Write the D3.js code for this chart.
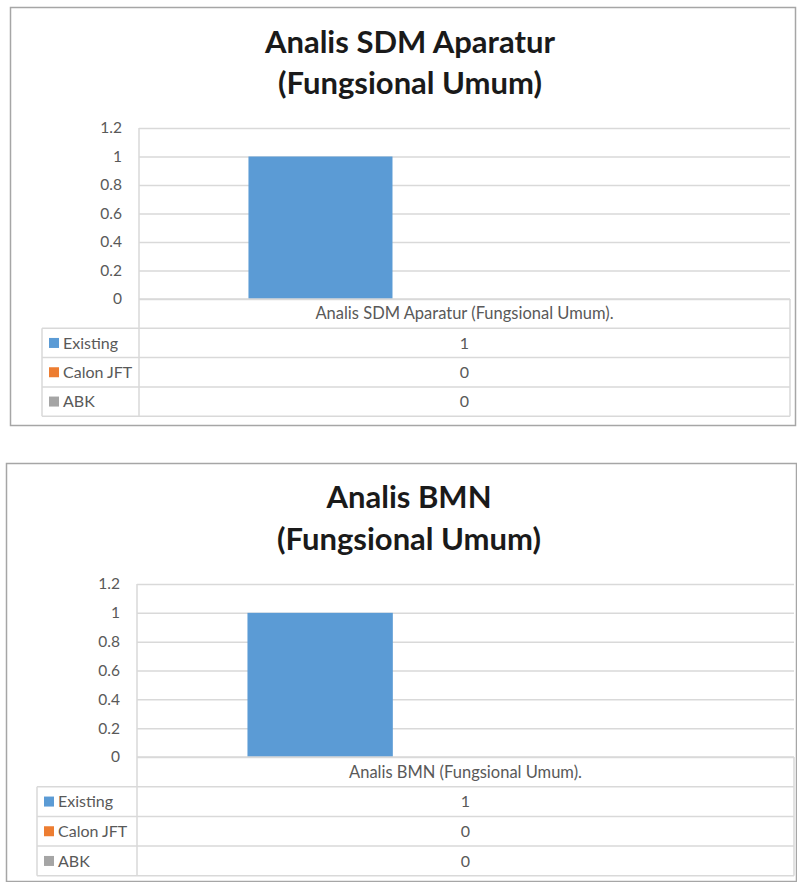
<!DOCTYPE html>
<html>
<head>
<meta charset="utf-8">
<script src="https://cdn.jsdelivr.net/npm/d3@7"></script>
<style>
  body { margin:0; background:#fff; }
  text { font-family: Lato, "Open Sans", sans-serif; }
</style>
</head>
<body>
<div id="chart"></div>
<script>
// data
const seriesNames = ['Existing','Calon JFT','ABK'];
const sdmTitle = ['Analis SDM Aparatur','(Fungsional Umum)'];
const sdmCategories = ['Analis SDM Aparatur (Fungsional Umum).'];
const sdmValues = [1,0,0];
const bmnTitle = ['Analis BMN','(Fungsional Umum)'];
const bmnCategories = ['Analis BMN (Fungsional Umum).'];
const bmnValues = [1,0,0];
const yTicks = [0,0.2,0.4,0.6,0.8,1,1.2];

const colors = ['#5b9bd5','#ed7d31','#a5a5a5'];
const textGray = '#595959';
const lineGray = '#d9d9d9';

// layout of each chart on the page
const charts = [
  {title:sdmTitle, categories:sdmCategories, values:sdmValues,
   box:{x:10,y:7,w:785,h:418}, plot:{left:139,right:790,top:128,bottom:299},
   tableLeft:42, rowH:29.3, titleX:410, titleY:[53,94]},
  {title:bmnTitle, categories:bmnCategories, values:bmnValues,
   box:{x:6,y:463,w:790,h:418}, plot:{left:137,right:794,top:584,bottom:757},
   tableLeft:37, rowH:29.7, titleX:409, titleY:[508,550]}
];

var svg = d3.select('#chart')
            .append('svg')
            .attr('width',797)
            .attr('height',882);

function drawChart(c){
  let g = svg.append('g');
  let p = c.plot;

  g.append('rect')
   .attr('x',c.box.x + 0.5).attr('y',c.box.y + 0.5)
   .attr('width',c.box.w).attr('height',c.box.h)
   .attr('fill','#fff')
   .attr('stroke','#a6a6a6')
   .attr('stroke-width',1.5);

  g.selectAll('.title')
   .data(c.title)
   .enter()
   .append('text')
   .attr('x',c.titleX)
   .attr('y',(d,i) => c.titleY[i])
   .attr('text-anchor','middle')
   .attr('font-size','31px')
   .attr('font-weight','bold')
   .attr('fill','#1a1a1a')
   .text(d => d);

  let y = d3.scaleLinear()
            .domain([0,1.2])
            .range([p.bottom,p.top]);
  let x0 = d3.scaleBand()
             .domain(c.categories)
             .range([p.left,p.right]);
  let x1 = d3.scaleBand()
             .domain(seriesNames)
             .range([0,x0.bandwidth()])
             .paddingInner(0)
             .paddingOuter(0.76);

  // gridlines + tick labels
  let yAxis = g.append('g')
     .attr('transform',`translate(${p.left},0)`)
     .call(d3.axisLeft(y)
             .tickValues(yTicks)
             .tickSize(-(p.right - p.left))
             .tickPadding(17)
             .tickFormat(d => d));
  yAxis.select('.domain').remove();
  yAxis.selectAll('line').attr('stroke',lineGray).attr('stroke-width',1.5);
  yAxis.selectAll('text')
       .attr('fill',textGray)
       .attr('font-size','15.5px')
       .style('font-family','Lato, sans-serif');

  // bars
  c.categories.forEach(cat => {
    g.selectAll(null)
     .data(c.values)
     .enter()
     .append('rect')
     .attr('x',(d,i) => x0(cat) + x1(seriesNames[i]))
     .attr('y',d => y(d))
     .attr('width',x1.bandwidth())
     .attr('height',d => y(0) - y(d))
     .attr('fill',(d,i) => colors[i]);
  });

  // data table
  let rowTop = p.bottom + c.rowH;
  let rowYs = seriesNames.map((s,i) => rowTop + i*c.rowH);
  let tableBottom = rowTop + seriesNames.length*c.rowH;
  let tline = (x1_,y1_,x2_,y2_) => g.append('line')
       .attr('x1',x1_).attr('y1',y1_).attr('x2',x2_).attr('y2',y2_)
       .attr('stroke',lineGray).attr('stroke-width',1.5);

  tline(p.left,p.top,p.left,tableBottom);
  tline(p.right,p.bottom,p.right,tableBottom);
  tline(c.tableLeft,rowTop,c.tableLeft,tableBottom);
  tline(p.left,p.bottom,p.right,p.bottom);
  rowYs.concat([tableBottom]).forEach(yy => tline(c.tableLeft,yy,p.right,yy));

  c.categories.forEach(cat => {
    g.append('text')
     .attr('x',x0(cat) + x0.bandwidth()/2)
     .attr('y',p.bottom + c.rowH/2)
     .attr('dy','0.35em')
     .attr('text-anchor','middle')
     .attr('font-size','16.5px')
     .attr('fill',textGray)
     .text(cat);

    g.selectAll(null)
     .data(c.values)
     .enter()
     .append('text')
     .attr('x',x0(cat) + x0.bandwidth()/2)
     .attr('y',(d,i) => rowYs[i] + c.rowH/2)
     .attr('dy','0.35em')
     .attr('text-anchor','middle')
     .attr('font-size','16px')
     .attr('fill',textGray)
     .text(d => d);
  });

  let legend = g.selectAll('.leg')
     .data(seriesNames)
     .enter()
     .append('g')
     .attr('transform',(d,i) => `translate(${c.tableLeft},${rowYs[i]})`);
  legend.append('rect')
        .attr('x',7).attr('y',c.rowH/2 - 5)
        .attr('width',10).attr('height',10)
        .attr('fill',(d,i) => colors[i]);
  legend.append('text')
        .attr('x',21)
        .attr('y',c.rowH/2)
        .attr('dy','0.35em')
        .attr('font-size','16px')
        .attr('fill',textGray)
        .text(d => d);
}

charts.forEach(drawChart);
</script>
</body>
</html>
